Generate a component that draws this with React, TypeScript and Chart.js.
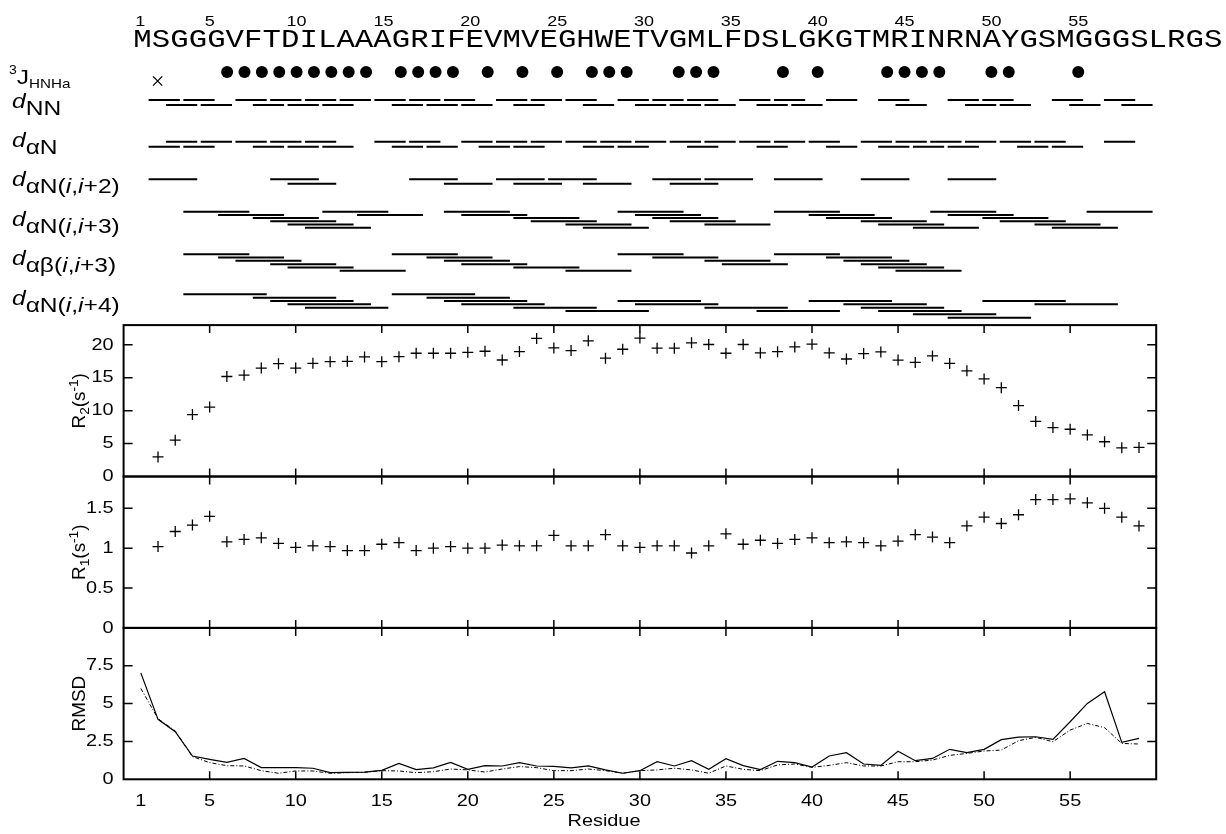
import React, { useEffect, useRef } from 'react';
import { Chart, registerables } from 'chart.js';

Chart.register(...registerables);

// ---------------- DATA ----------------
const sequence = 'MSGGGVFTDILAAAGRIFEVMVEGHWETVGMLFDSLGKGTMRINRNAYGSMGGGSLRGS';
const sequenceNumbers = [1, 5, 10, 15, 20, 25, 30, 35, 40, 45, 50, 55];
const residueTicks = [1, 5, 10, 15, 20, 25, 30, 35, 40, 45, 50, 55];

const residues = [1, 2, 3, 4, 5, 6, 7, 8, 9, 10, 11, 12, 13, 14, 15, 16, 17, 18, 19, 20,
  21, 22, 23, 24, 25, 26, 27, 28, 29, 30, 31, 32, 33, 34, 35, 36, 37, 38, 39, 40,
  41, 42, 43, 44, 45, 46, 47, 48, 49, 50, 51, 52, 53, 54, 55, 56, 57, 58, 59];

const r2Values = [null, 2.97, 5.52, 9.41, 10.54, 15.19, 15.4, 16.47, 17.14, 16.47,
  17.19, 17.44, 17.49, 18.16, 17.44, 18.2, 18.72, 18.72, 18.72, 18.87,
  19.03, 17.7, 18.98, 20.97, 19.54, 19.13, 20.61, 17.98, 19.33, 21.03,
  19.49, 19.49, 20.3, 20.05, 18.72, 20.05, 18.77, 18.97, 19.69, 20.1,
  18.77, 17.85, 18.67, 18.92, 17.69, 17.33, 18.31, 17.18, 16.05, 14.82,
  13.49, 10.77, 8.36, 7.44, 7.18, 6.31, 5.28, 4.36, 4.41];

const r1Values = [null, 1.02, 1.21, 1.29, 1.4, 1.08, 1.11, 1.13, 1.06, 1.01,
  1.03, 1.02, 0.97, 0.97, 1.05, 1.07, 0.97, 1.0, 1.02, 1.0,
  1.0, 1.04, 1.03, 1.03, 1.16, 1.03, 1.03, 1.17, 1.03, 1.01,
  1.03, 1.03, 0.94, 1.03, 1.18, 1.05, 1.1, 1.06, 1.11, 1.13,
  1.07, 1.08, 1.07, 1.03, 1.09, 1.17, 1.14, 1.07, 1.28, 1.39,
  1.31, 1.42, 1.61, 1.61, 1.62, 1.57, 1.5, 1.39, 1.28];

const rmsdSolid = [7.03, 3.96, 3.14, 1.54, 1.32, 1.12, 1.38, 0.77, 0.77, 0.77,
  0.73, 0.44, 0.46, 0.48, 0.59, 1.05, 0.64, 0.75, 1.12, 0.66,
  0.9, 0.88, 1.1, 0.88, 0.86, 0.75, 0.88, 0.62, 0.4, 0.57,
  1.16, 0.88, 1.23, 0.66, 1.36, 0.9, 0.64, 1.19, 1.1, 0.81,
  1.54, 1.76, 1.01, 0.92, 1.85, 1.23, 1.38, 1.98, 1.76, 1.98,
  2.62, 2.79, 2.81, 2.64, 3.8, 5.01, 5.78, 2.44, 2.7];

const rmsdDashDot = [6.0, 4.0, 3.2, 1.5, 1.1, 0.9, 0.88, 0.57, 0.4, 0.55,
  0.55, 0.4, 0.44, 0.46, 0.57, 0.55, 0.44, 0.5, 0.68, 0.62,
  0.48, 0.68, 0.84, 0.77, 0.57, 0.57, 0.68, 0.57, 0.4, 0.57,
  0.62, 0.73, 0.62, 0.4, 0.88, 0.66, 0.57, 0.95, 1.01, 0.79,
  0.92, 1.1, 0.88, 0.88, 1.16, 1.16, 1.27, 1.58, 1.71, 1.87,
  1.93, 2.55, 2.77, 2.48, 3.25, 3.69, 3.41, 2.37, 2.33];

// 3J(HN-Ha): filled dots = small coupling, cross = large
const jSmall = [6, 7, 8, 9, 10, 11, 12, 13, 14, 16, 17, 18, 19, 21, 23, 25, 27, 28, 29,
  32, 33, 34, 38, 40, 44, 45, 46, 47, 50, 51, 55];
const jLarge = [2];

// NOE connectivities: start residue i of each (i, i+k) contact, per drawing level
const dNN_level1 = [2, 4, 7, 9, 11, 13, 15, 17, 19, 22, 24, 26, 29, 31, 33, 36, 38, 41, 44, 48, 50, 54, 57];
const dNN_level2 = [3, 5, 8, 10, 12, 16, 18, 20, 23, 27, 30, 32, 34, 37, 39, 45, 49, 51, 55, 58];

const daN_level1 = [3, 5, 7, 9, 11, 15, 17, 20, 22, 24, 26, 28, 30, 32, 34, 36, 38, 40, 43, 45, 47, 49, 51, 53, 57];
const daN_level2 = [2, 4, 8, 10, 12, 16, 18, 21, 23, 27, 29, 33, 37, 41, 44, 46, 48, 52, 54];

const daN2_level1 = [2, 9, 17, 22, 25, 31, 34, 38, 43, 48];
const daN2_level2 = [10, 19, 23, 27, 32];

const daN3_level1 = [4, 12, 19, 29, 38, 47, 56];
const daN3_level2 = [6, 14, 20, 30, 40, 48];
const daN3_level3 = [8, 23, 31, 41, 50];
const daN3_level4 = [9, 24, 32, 43, 51];
const daN3_level5 = [10, 26, 34, 44, 53];
const daN3_level6 = [11, 27, 46, 54];

const dab3_level1 = [4, 16, 29, 38];
const dab3_level2 = [6, 18, 31, 41];
const dab3_level3 = [7, 19, 34, 42];
const dab3_level4 = [9, 20, 35, 43];
const dab3_level5 = [10, 23, 44];
const dab3_level6 = [13, 26, 45];

const daN4_level1 = [4, 16];
const daN4_level2 = [8, 18];
const daN4_level3 = [9, 19, 29, 40, 50];
const daN4_level4 = [10, 20, 30, 42, 53];
const daN4_level5 = [11, 23, 34, 43];
const daN4_level6 = [26, 37, 44];
const daN4_level7 = [46];
const daN4_level8 = [48];

// ---------------- LAYOUT / STYLE ----------------
const W = 1226;
const H = 834;
const PLOT_LEFT = 123.6;
const PLOT_RIGHT = 1156.2;
const TOP_H = 325.1;
const PANEL_H = 151.4;
const BOTTOM_AXIS_H = H - TOP_H - 3 * PANEL_H;
// top-section residue scale (slightly wider pitch than the panels)
const XT_A = 122.9;
const XT_B = 17.37;
const XT_MIN = (PLOT_LEFT - XT_A) / XT_B;
const XT_MAX = (PLOT_RIGHT - XT_A) / XT_B;

const SANS = 'Arial, "Liberation Sans", Helvetica, sans-serif';
const MONO = '"Courier New", "Liberation Mono", monospace';
const SX = 1.17; // horizontal stretch of the original figure's lettering

const J_DOT_Y = 72;
const J_CROSS_Y = 81;
const SEG_LEFT = 0.52;
const SEG_RIGHT = 0.28;

type Run = { t: string; f: string; dy?: number };

const fD = `italic 21px ${SANS}`;
const fN = `21px ${SANS}`;
const fI = `italic 21px ${SANS}`;

const noeRows = [
  { span: 1, lanes: [dNN_level1, dNN_level2], y0: 100, gap: 5, base: 115,
    label: [{ t: 'd', f: fD, dy: -7 }, { t: 'NN', f: fN }] as Run[] },
  { span: 1, lanes: [daN_level1, daN_level2], y0: 141.7, gap: 5, base: 154,
    label: [{ t: 'd', f: fD, dy: -7 }, { t: 'αN', f: fN }] as Run[] },
  { span: 2, lanes: [daN2_level1, daN2_level2], y0: 179.3, gap: 4.4, base: 193,
    label: [{ t: 'd', f: fD, dy: -7 }, { t: 'αN(', f: fN }, { t: 'i', f: fI }, { t: ',', f: fN }, { t: 'i', f: fI }, { t: '+2)', f: fN }] as Run[] },
  { span: 3, lanes: [daN3_level1, daN3_level2, daN3_level3, daN3_level4, daN3_level5, daN3_level6], y0: 211.7, gap: 3.2, base: 233,
    label: [{ t: 'd', f: fD, dy: -7 }, { t: 'αN(', f: fN }, { t: 'i', f: fI }, { t: ',', f: fN }, { t: 'i', f: fI }, { t: '+3)', f: fN }] as Run[] },
  { span: 3, lanes: [dab3_level1, dab3_level2, dab3_level3, dab3_level4, dab3_level5, dab3_level6], y0: 254.3, gap: 3.28, base: 272,
    label: [{ t: 'd', f: fD, dy: -7 }, { t: 'αβ(', f: fN }, { t: 'i', f: fI }, { t: ',', f: fN }, { t: 'i', f: fI }, { t: '+3)', f: fN }] as Run[] },
  { span: 4, lanes: [daN4_level1, daN4_level2, daN4_level3, daN4_level4, daN4_level5, daN4_level6, daN4_level7, daN4_level8], y0: 294.3, gap: 3.34, base: 312,
    label: [{ t: 'd', f: fD, dy: -7 }, { t: 'αN(', f: fN }, { t: 'i', f: fI }, { t: ',', f: fN }, { t: 'i', f: fI }, { t: '+4)', f: fN }] as Run[] },
];

function drawRuns(ctx: CanvasRenderingContext2D, runs: Run[], x: number, y: number, sx: number, align: 'left' | 'center' = 'left') {
  const widths = runs.map((r) => { ctx.font = r.f; return ctx.measureText(r.t).width * sx; });
  const total = widths.reduce((a, b) => a + b, 0);
  let cx = align === 'center' ? x - total / 2 : x;
  runs.forEach((r, i) => {
    ctx.save();
    ctx.font = r.f;
    ctx.textAlign = 'left';
    ctx.textBaseline = 'alphabetic';
    ctx.translate(cx, y + (r.dy || 0));
    ctx.scale(sx, 1);
    ctx.fillText(r.t, 0, 0);
    ctx.restore();
    cx += widths[i];
  });
}

function drawText(ctx: CanvasRenderingContext2D, t: string, x: number, y: number, font: string,
  align: CanvasTextAlign, baseline: CanvasTextBaseline, sx: number) {
  ctx.save();
  ctx.font = font;
  ctx.textAlign = align;
  ctx.textBaseline = baseline;
  ctx.translate(x, y);
  ctx.scale(sx, 1);
  ctx.fillText(t, 0, 0);
  ctx.restore();
}

const fmt = (v: number) => String(Number(v.toFixed(3)));

const TITLE_F = `18px ${SANS}`;
const TITLE_SUB = `13px ${SANS}`;

const decorPlugin = {
  id: 'decor',
  afterDraw(chart: any) {
    const ctx: CanvasRenderingContext2D = chart.ctx;
    const s = chart.scales;
    const area = chart.chartArea;
    ctx.save();
    ctx.fillStyle = '#000';
    ctx.strokeStyle = '#000';

    // ---- panels: frames, inward ticks, labels
    const panels = [
      { sc: s.y1, title: [{ t: 'R', f: TITLE_F }, { t: '2', f: TITLE_SUB, dy: 4 }, { t: '(s', f: TITLE_F }, { t: '-1', f: TITLE_SUB, dy: -7 }, { t: ')', f: TITLE_F }] as Run[] },
      { sc: s.y2, title: [{ t: 'R', f: TITLE_F }, { t: '1', f: TITLE_SUB, dy: 4 }, { t: '(s', f: TITLE_F }, { t: '-1', f: TITLE_SUB, dy: -7 }, { t: ')', f: TITLE_F }] as Run[] },
      { sc: s.y3, title: [{ t: 'RMSD', f: TITLE_F }] as Run[] },
    ];
    const xs = s.x;
    panels.forEach(({ sc, title }) => {
      const top = sc.top, bottom = sc.bottom;
      ctx.lineWidth = 2;
      ctx.strokeRect(area.left, top, area.right - area.left, bottom - top);
      ctx.lineWidth = 1.5;
      ctx.beginPath();
      xs.ticks.forEach((t: any) => {
        if (t.value === 1) return;
        const px = xs.getPixelForValue(t.value);
        ctx.moveTo(px, bottom); ctx.lineTo(px, bottom - 8);
        ctx.moveTo(px, top); ctx.lineTo(px, top + 8);
      });
      sc.ticks.forEach((t: any) => {
        if (t.value <= sc.min + 1e-9 || t.value >= sc.max - 1e-9) return;
        const py = sc.getPixelForValue(t.value);
        ctx.moveTo(area.left, py); ctx.lineTo(area.left + 9, py);
        ctx.moveTo(area.right, py); ctx.lineTo(area.right - 9, py);
      });
      ctx.stroke();
      sc.ticks.forEach((t: any) => {
        if (t.value >= sc.max - 1e-9) return;
        const py = sc.getPixelForValue(t.value);
        drawText(ctx, fmt(t.value), area.left - 10, py, `17px ${SANS}`, 'right', 'middle', SX);
      });
      // rotated title
      ctx.save();
      ctx.translate(79, (top + bottom) / 2);
      ctx.rotate(-Math.PI / 2);
      drawRuns(ctx, title, 0, 6, 1.05, 'center');
      ctx.restore();
    });

    // x tick labels and title
    xs.ticks.forEach((t: any) => {
      drawText(ctx, String(t.value), xs.getPixelForValue(t.value), 806, `17px ${SANS}`, 'center', 'alphabetic', SX);
    });
    drawText(ctx, 'Residue', 604, 826, `17px ${SANS}`, 'center', 'alphabetic', SX);

    // ---- top section text
    const xt = s.xt;
    sequenceNumbers.forEach((n) => {
      drawText(ctx, String(n), xt.getPixelForValue(n), 25.5, `15px ${SANS}`, 'center', 'alphabetic', 1.2);
    });
    const pitch = 18.46;
    const seqStart = area.left + 9.7;
    for (let k = 0; k < sequence.length; k++) {
      drawText(ctx, sequence[k], seqStart + pitch * (k + 0.5), 46.5, `26px ${MONO}`, 'center', 'alphabetic', 1.18);
    }
    drawRuns(ctx, [{ t: '3', f: `12px ${SANS}`, dy: -10 }, { t: 'J', f: `21px ${SANS}` }, { t: 'HNHa', f: `13px ${SANS}`, dy: 4 }], 9, 84, SX);
    noeRows.forEach((row) => {
      drawRuns(ctx, row.label, 12, row.base, SX);
    });
    ctx.restore();
  },
};

export default function App() {
  const ref = useRef<HTMLCanvasElement | null>(null);

  useEffect(() => {
    if (!ref.current) return;
    const datasets: any[] = [];

    // NOE segments
    noeRows.forEach((row) => {
      row.lanes.forEach((lane, li) => {
        const y = row.y0 + li * row.gap;
        const pts: any[] = [];
        lane.forEach((i) => {
          pts.push({ x: i - SEG_LEFT, y });
          pts.push({ x: i + row.span + SEG_RIGHT, y });
          pts.push({ x: i + row.span + SEG_RIGHT + 0.01, y: null });
        });
        datasets.push({
          data: pts, xAxisID: 'xt', yAxisID: 'yt', showLine: true, spanGaps: false,
          pointRadius: 0, borderColor: '#000', borderWidth: 2, borderCapStyle: 'butt',
        });
      });
    });

    datasets.push({
      data: jSmall.map((r) => ({ x: r, y: J_DOT_Y })), xAxisID: 'xt', yAxisID: 'yt',
      pointStyle: 'circle', pointRadius: 6, backgroundColor: '#000', borderColor: '#000', borderWidth: 0,
    });
    datasets.push({
      data: jLarge.map((r) => ({ x: r, y: J_CROSS_Y })), xAxisID: 'xt', yAxisID: 'yt',
      pointStyle: 'crossRot', pointRadius: 6.5, borderColor: '#000', borderWidth: 1.3,
    });

    datasets.push({
      data: residues.map((r, k) => ({ x: r, y: r2Values[k] })), xAxisID: 'x', yAxisID: 'y1',
      pointStyle: 'cross', pointRadius: 5.5, borderColor: '#000', borderWidth: 1.3,
    });
    datasets.push({
      data: residues.map((r, k) => ({ x: r, y: r1Values[k] })), xAxisID: 'x', yAxisID: 'y2',
      pointStyle: 'cross', pointRadius: 5.5, borderColor: '#000', borderWidth: 1.3,
    });
    datasets.push({
      data: residues.map((r, k) => ({ x: r, y: rmsdSolid[k] })), xAxisID: 'x', yAxisID: 'y3',
      showLine: true, pointRadius: 0, borderColor: '#000', borderWidth: 1.2, tension: 0,
    });
    datasets.push({
      data: residues.map((r, k) => ({ x: r, y: rmsdDashDot[k] })), xAxisID: 'x', yAxisID: 'y3',
      showLine: true, pointRadius: 0, borderColor: '#000', borderWidth: 1, borderDash: [4, 2, 1, 2], tension: 0,
    });

    const hiddenY = (extra: any) => ({
      type: 'linear', position: 'left', stack: 'panels',
      ticks: { display: false }, grid: { display: false }, border: { display: false },
      afterFit: (sc: any) => { sc.width = PLOT_LEFT; },
      ...extra,
    });

    const chart = new Chart(ref.current, {
      type: 'scatter',
      data: { datasets },
      plugins: [decorPlugin],
      options: {
        animation: false,
        responsive: true,
        maintainAspectRatio: false,
        devicePixelRatio: 1,
        layout: { autoPadding: false, padding: { left: 0, right: W - PLOT_RIGHT, top: 0, bottom: 0 } },
        plugins: { legend: { display: false }, tooltip: { enabled: false } },
        scales: {
          x: {
            type: 'linear', position: 'bottom', min: 0, max: 60,
            ticks: { display: false }, grid: { display: false }, border: { display: false },
            afterBuildTicks: (sc: any) => { sc.ticks = residueTicks.map((v) => ({ value: v })); },
            afterFit: (sc: any) => { sc.height = BOTTOM_AXIS_H; },
          },
          xt: { type: 'linear', display: false, min: XT_MIN, max: XT_MAX },
          yt: hiddenY({ min: 0, max: TOP_H, reverse: true, stackWeight: TOP_H, weight: 4 }),
          y1: hiddenY({ min: 0, max: 23, stackWeight: PANEL_H, weight: 3, ticks: { display: false, stepSize: 5, includeBounds: false } }),
          y2: hiddenY({ min: 0, max: 1.9, stackWeight: PANEL_H, weight: 2, ticks: { display: false, stepSize: 0.5, includeBounds: false } }),
          y3: hiddenY({ min: 0, max: 10, stackWeight: PANEL_H, weight: 1, ticks: { display: false, stepSize: 2.5, includeBounds: false } }),
        },
      } as any,
    });
    return () => chart.destroy();
  }, []);

  return (
    <div style={{ position: 'absolute', left: 0, top: 0, width: W, height: H, background: '#fff' }}>
      <canvas ref={ref} />
    </div>
  );
}
